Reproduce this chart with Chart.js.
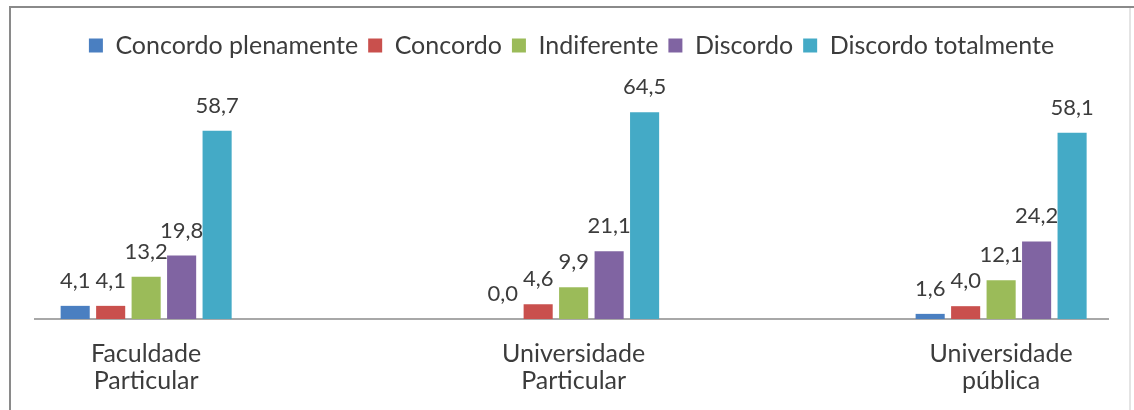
<!DOCTYPE html>
<html>
<head>
<meta charset="utf-8">
<script src="https://cdn.jsdelivr.net/npm/chart.js@4"></script>
<style>
  html, body { margin: 0; padding: 0; background: #fff; }
  #box { width: 1134px; height: 410px; }
</style>
</head>
<body>
<div id="box"><canvas id="myChart" width="1134" height="410"></canvas></div>
<script>
// categories on the x axis
const categories = ['Faculdade Particular', 'Universidade Particular', 'Universidade pública'];

// one array per answer, in the order of the categories
const seriesNames = ['Concordo plenamente', 'Concordo', 'Indiferente', 'Discordo', 'Discordo totalmente'];
const concordoPlenamente = [4.1, 0.0, 1.6];
const concordo = [4.1, 4.6, 4.0];
const indiferente = [13.2, 9.9, 12.1];
const discordo = [19.8, 21.1, 24.2];
const discordoTotalmente = [58.7, 64.5, 58.1];
const seriesColors = ['#4a7fc1', '#c9504d', '#9bbb59', '#8064a2', '#44aac6'];

const allSeries = [concordoPlenamente, concordo, indiferente, discordo, discordoTotalmente];

window.onload = function() {

    const txt = '#3c3c3c';

    // value labels over each bar, written with a comma
    const valueLabels = {
        id: 'valueLabels',
        afterDatasetsDraw(chart) {
            const ctx = chart.ctx;
            ctx.save();
            ctx.font = '22px Lato';
            ctx.fillStyle = txt;
            ctx.textAlign = 'center';
            ctx.textBaseline = 'alphabetic';
            chart.data.datasets.forEach((ds, i) => {
                chart.getDatasetMeta(i).data.forEach((bar, j) => {
                    const v = ds.data[j].y;
                    ctx.fillText(v.toFixed(1).replace('.', ','), bar.x, bar.y - 18);
                });
            });
            ctx.restore();
        }
    };

    // the frame round the chart
    const frame = {
        id: 'frame',
        beforeDraw(chart) {
            const ctx = chart.ctx;
            ctx.save();
            ctx.lineWidth = 2;
            ctx.strokeStyle = '#8a8a8a';
            ctx.beginPath();
            ctx.moveTo(10, 420);
            ctx.lineTo(10, 7);
            ctx.lineTo(1134, 7);
            ctx.stroke();
            ctx.strokeStyle = '#e4e4e4';
            ctx.beginPath();
            ctx.moveTo(1130, 8);
            ctx.lineTo(1130, 420);
            ctx.stroke();
            ctx.restore();
        }
    };

    let chart = document.getElementById('myChart').getContext('2d');

    let myChart = new Chart(chart, {
        type: 'bar',
        data: {
            datasets: allSeries.map((arr, i) => ({
                label: seriesNames[i],
                backgroundColor: seriesColors[i],
                data: arr.map((v, j) => ({ x: j, y: v })),
                categoryPercentage: 0.415,
                barPercentage: 0.82
            }))
        },
        options: {
            responsive: false,
            animation: false,
            layout: { padding: { left: 35, right: 26, top: 23, bottom: 3 } },
            plugins: {
                legend: {
                    display: true,
                    labels: {
                        color: txt,
                        font: { family: 'Lato', size: 25 },
                        boxWidth: 14,
                        boxHeight: 14,
                        padding: 10
                    }
                },
                tooltip: { enabled: false }
            },
            scales: {
                x: {
                    type: 'linear',
                    offset: false,
                    min: -0.26,
                    max: 2.25,
                    grid: { display: false },
                    border: { display: true, color: '#a8a8a8', width: 2 },
                    ticks: {
                        stepSize: 1,
                        includeBounds: false,
                        color: txt,
                        font: { family: 'Lato', size: 25, lineHeight: 1.08 },
                        padding: 13,
                        callback: v => Number.isInteger(v) && categories[v] ? categories[v].split(' ') : ''
                    }
                },
                y: {
                    display: false,
                    min: 0,
                    max: 78.3
                }
            }
        },
        plugins: [valueLabels, frame]
    });
};
</script>
</body>
</html>
